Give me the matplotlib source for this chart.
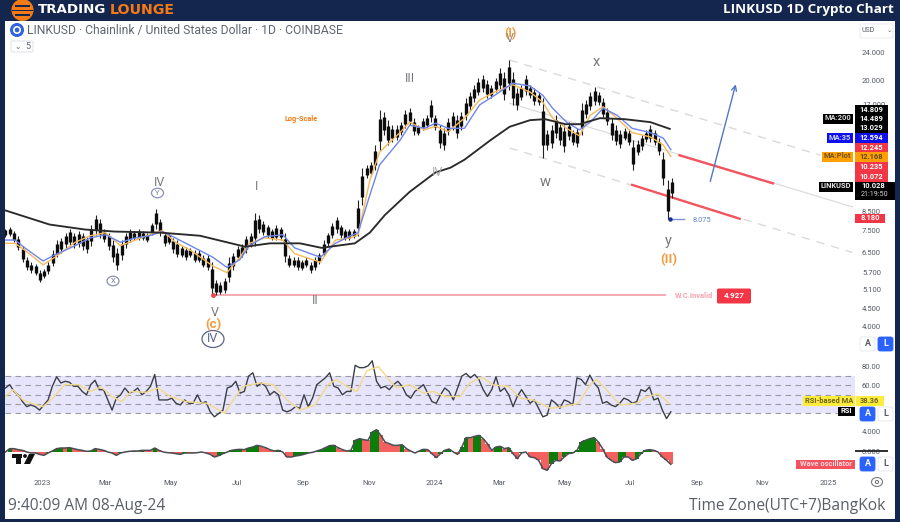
import numpy as np
import matplotlib
matplotlib.use("Agg")
import matplotlib.pyplot as plt
from matplotlib.patches import Rectangle, Circle, Ellipse, FancyBboxPatch, Polygon
from matplotlib.ticker import FixedLocator, FixedFormatter, NullLocator

plt.rcParams['font.family'] = ['Roboto', 'DejaVu Sans']

# ---------- data ----------
bar_high = [7.6,7.7,7.5,7.25,6.8,6.3,6.1,6.05,5.8,5.85,6.1,6.6,7.05,7.15,7.4,7.6,7.4,7.5,7.4,7.2,
            7.8,8.3,8.1,7.6,7.4,7.05,6.7,7.05,7.4,7.6,7.5,7.6,7.5,7.4,7.9,8.65,8.1,7.4,7.4,7.15,
            7.05,6.8,6.75,6.7,6.6,6.6,6.4,6.4,6.1,5.45,5.35,5.5,6.3,6.5,6.8,6.85,7.25,7.4,8.4,8.3,
            8.0,7.8,7.6,7.8,7.7,7.4,6.4,6.3,6.3,6.2,6.3,6.1,6.3,6.5,7.05,7.4,7.9,8.2,7.8,7.6,
            7.6,7.6,9.15,11.25,11.5,11.7,13.1,16.45,16.2,15.4,14.9,14.9,15.2,16.45,16.65,15.6,14.9,15.6,15.9,17.55,
            15.9,14.9,14.6,15.6,16.2,15.9,16.2,17.75,18.5,19.4,20.25,20.7,20.0,19.4,20.25,21.6,21.1,22.8,21.1,19.0,
            19.4,20.7,19.4,19.0,18.5,17.8,14.45,14.9,15.9,15.2,14.9,15.2,14.45,14.6,17.2,17.55,18.5,19.15,18.5,17.8,
            16.65,15.6,14.9,14.45,14.6,14.45,13.5,13.5,14.0,14.45,14.9,14.45,13.7,12.5,10.4,10.55]
bar_low = [7.2,7.25,6.95,6.6,6.1,5.8,5.7,5.6,5.35,5.5,5.65,5.95,6.3,6.5,6.7,6.8,6.7,6.75,6.6,6.5,
           6.8,7.3,7.15,6.95,6.6,6.1,5.8,6.2,6.7,6.95,7.05,7.05,7.05,6.95,7.3,7.6,7.25,6.8,6.85,6.5,
           6.3,6.3,6.2,6.3,6.1,6.1,5.9,5.8,4.93,4.93,4.95,5.0,5.35,5.8,6.2,6.3,6.5,6.75,6.8,7.4,
           7.3,7.15,7.05,7.05,7.05,6.1,5.9,5.9,5.8,5.8,5.9,5.7,5.8,6.05,6.35,6.8,7.15,7.4,7.15,7.05,
           7.05,7.15,7.25,8.85,10.55,10.7,11.1,12.7,14.0,13.1,13.35,13.5,14.0,14.6,14.9,14.0,14.0,14.45,14.6,15.2,
           14.45,12.85,12.7,14.0,14.45,13.7,14.45,15.4,16.45,17.3,18.1,18.5,17.8,17.8,18.5,18.75,17.55,18.75,17.0,16.45,
           17.55,18.1,17.8,17.0,17.0,12.0,12.7,12.85,13.7,13.1,12.5,13.5,13.1,12.95,14.0,15.6,16.45,17.0,17.0,15.6,
           14.9,13.5,13.1,12.85,13.5,13.1,11.1,12.25,12.7,13.35,13.35,13.1,12.25,10.1,8.075,9.3]

ma_days = [-34,-25,-16,1,12,31,45,59,73,87,100,112,124,138,159,172,184,193,207,224,235,259,273,287,294,
           305,314,333,342,356,366,378,393,407,421,438,454,466,475,488,500,510,522,535,549,566,578,585]
ma35 = [7.05,7.05,6.7,6.15,6.4,6.8,7.15,7.3,6.95,7.15,7.25,7.45,7.15,6.8,6.3,5.9,6.2,6.8,7.2,7.3,6.7,6.3,6.9,7.25,7.4,
        9.45,11.5,13.5,14.9,14.6,15.1,14.6,14.6,17.0,18.1,19.6,19.25,18.1,16.65,15.2,14.45,15.2,16.65,15.9,14.6,14.2,13.7,12.7]
ma_plot = [6.9,6.9,6.6,6.0,6.3,6.95,7.25,7.4,6.8,7.05,7.3,7.5,6.95,6.6,5.95,5.7,6.3,6.9,7.15,7.05,6.45,6.1,7.05,7.15,7.3,
           10.4,12.5,14.2,15.2,14.45,14.8,14.3,15.6,17.55,18.5,19.4,18.5,17.3,15.6,14.6,13.9,15.9,16.8,15.6,14.2,13.8,13.1,12.15]
ma200_days = [-34,7,40,68,110,147,189,212,240,260,291,305,319,342,366,380,393,417,435,454,468,487,500,519,542,566,584]
ma200 = [8.55,7.8,7.55,7.45,7.4,7.25,6.75,6.9,6.9,6.7,6.9,7.4,8.3,9.65,10.95,11.3,11.9,13.5,14.75,15.4,15.5,15.0,15.0,15.6,15.5,15.2,14.55]

rsi = [57.3,60.9,53.6,50,42.7,37.3,39.1,37.3,33.6,39.1,44.5,59.1,69.3,62.7,64.5,63.5,59.1,59.1,53.6,50,60.9,65.6,55.5,55.5,44.5,33.6,
       46.4,50,57.3,51.8,53.6,57.3,50,53.6,59.1,71.8,44.5,44.5,44.5,46.4,40.9,39.1,44.5,40.9,40.9,50,40.9,42.7,31.8,26.4,30,33.6,
       57.3,59.1,64.5,51.8,53.6,70,73.6,59.1,62.7,59.1,50,53.6,50,33.6,31.8,33.6,37.3,35.5,50,37.3,46.4,60.9,64.5,68.2,73.6,59.1,
       57.3,50,53.6,53.6,81.6,79.1,79.1,80.9,86.4,64.5,57.3,59.1,55.5,60.9,64.5,59.1,50,46.4,53.6,57.3,60.9,51.8,42.7,40.9,50,
       57.3,53.6,44.5,57.3,70,72.9,68.2,71.8,66.4,55.5,48.2,55.5,69.3,53.6,57.3,50,37.3,48.2,55.5,48.2,40.9,44.5,35.5,26.4,28.2,
       44.5,40.9,35.5,44.5,42.7,39.1,68.2,66.4,60.9,71.1,62.7,57.3,40.9,42.7,39.1,37.3,40.9,46.4,44.5,40.9,42.7,55.5,53.6,58.4,
       44.5,46.4,33.6,24.5,31.8]
rsi_ma_days = [-34,-27,-18,-8,1,10,21,34,45,55,65,74,83,97,108,119,134,153,162,170,178,187,203,215,228,240,254,266,274,286,293,
               302,313,324,330,342,355,364,375,389,398,409,420,434,445,457,473,485,499,510,516,525,538,553,562,573,578,584]
rsi_ma = [48.2,55.5,44.5,40.2,37.3,46.4,60.9,60.9,53.6,58.4,48.2,42.7,53.6,52.7,57.3,48.2,42.7,40.9,35.5,30,44.5,59.1,62.7,60.9,
          44.5,33.6,39.1,60.9,66.4,57.3,53.6,75.5,80.2,64.5,57.3,60.9,51.8,53.6,48.2,48.2,62.7,68.9,60.5,59.1,46.4,44.5,35.5,37.3,
          40.9,60.9,66.4,55.5,39.1,40.9,47.5,51.1,46.4,40.2]

wave_osc = [0,.67,.67,.47,.33,0,-.2,-.2,-.47,-.67,-.2,.2,.67,.8,.8,.87,.67,.47,.33,.13,.2,.67,.53,.33,0,-.2,-.67,-.2,0,.13,.2,.2,.33,.33,.33,.8,
            .33,0,-.13,-.2,-.33,-.47,-.2,-.2,-.2,-.13,0,-.2,-.47,-1,-.73,-.33,0,.33,.47,.53,.47,.8,1,1.33,1.13,.87,.47,.2,.33,0,-1,-1,-.8,-.67,-.47,-.2,
            -.07,.2,.47,.87,1.27,1.33,.87,.47,.2,.33,2.33,2.67,2.47,2.33,4,4.47,3.33,2,1.67,1.33,1.33,1.47,.67,.2,-.2,.2,.53,.47,-.33,-1.13,-.33,
            .33,.6,0,-.47,1,2.87,2.87,3.13,3.33,2.67,1.67,.33,1,1.13,.67,.87,-.33,-1.33,-.2,0,-1,-1.13,-1.67,-3.33,-3.67,-2.33,-1.67,-1.8,-1,-.33,-.2,
            .33,2,2.33,2.67,2.87,2,.67,-1,-1.67,-2.13,-2,-1,-1,-1.67,-1.33,-.33,.33,.47,.33,0,-1,-1.67,-2.47]

price_ticks = [24, 20, 17, 8.5, 7.5, 6.5, 5.7, 5.1, 4.5, 4.0]
rsi_ticks = [80, 60]
osc_ticks = [4, 0]
rsi_levels = [70, 60, 50, 40, 30]
x_tick_days = [0, 59, 120, 181, 243, 304, 365, 425, 486, 547, 609, 670, 731]
x_tick_labels = ['2023', 'Mar', 'May', 'Jul', 'Sep', 'Nov', '2024', 'Mar', 'May', 'Jul', 'Sep', 'Nov', '2025']

invalid_level = 4.927
low_level = 8.075
upper_channel = ([435, 724], [22.8, 12.25])
mid_channel = ([435, 754], [17.2, 8.75])
lower_channel = ([435, 754], [12.85, 6.5])
red_upper = ([593, 680], [12.25, 10.2])
red_lower = ([549, 649], [10.1, 8.1])
wave_arrow = ([621, 646], [10.15, 19.8])

# ---------- layout ----------
W, H = 900, 522
NAVY = '#14264d'
GREY = '#60656e'
fig = plt.figure(figsize=(W / 100, H / 100), dpi=100, facecolor=NAVY)
fig.patches.append(Rectangle((5 / W, 1 - 519 / H), 890 / W, 498 / H, transform=fig.transFigure, fc='white', ec='none', zorder=-5))


def pane(top, bottom):
    a = fig.add_axes([5 / W, 1 - bottom / H, 850 / W, (bottom - top) / H], facecolor='none')
    a.set_xlim(-34.4, 756.3)
    for s in a.spines.values():
        s.set_visible(False)
    a.yaxis.tick_right()
    a.tick_params(axis='both', length=0, labelsize=5.5, labelcolor='#555a63', pad=5)
    a.set_xticks([])
    return a


# ---------- price pane ----------
ax = pane(22, 345)
ax.set_yscale('log')
ax.set_ylim(3.557, 29.2)
ax.yaxis.set_major_locator(FixedLocator(price_ticks))
ax.yaxis.set_major_formatter(FixedFormatter(['%.3f' % t for t in price_ticks]))
ax.yaxis.set_minor_locator(NullLocator())

bar_days = -34 + 4 * np.arange(len(bar_high))
hi = np.array(bar_high)
lo = np.array(bar_low)
ax.vlines(bar_days, lo, hi, color='#222222', lw=0.8, zorder=3)
ax.vlines(bar_days, lo * (hi / lo) ** 0.22, lo * (hi / lo) ** 0.78, color='#0d0d0d', lw=2.4, zorder=3)

ax.plot(*upper_channel, color='#dadada', lw=1, ls=(0, (6, 5)), zorder=1)
ax.plot(*mid_channel, color='#dcdcdc', lw=0.9, zorder=1)
ax.plot(*lower_channel, color='#dadada', lw=1, ls=(0, (6, 5)), zorder=1)
ax.plot(*red_upper, color='#f2555f', lw=1.7, zorder=2)
ax.plot(*red_lower, color='#f2555f', lw=1.7, zorder=2)

ax.plot(ma200_days, ma200, color='#2a2a2a', lw=1.35, zorder=5)
ax.plot(ma_days, ma_plot, color='#f5b95c', lw=1.0, zorder=4)
ax.plot(ma_days, ma35, color='#6f86e8', lw=1.0, zorder=4)

ax.annotate('', xy=(wave_arrow[0][1], wave_arrow[1][1]), xytext=(wave_arrow[0][0], wave_arrow[1][0]),
            arrowprops=dict(arrowstyle='->', color='#4f78c8', lw=1.0, mutation_scale=9), zorder=4)
ax.plot([159, 580], [invalid_level, invalid_level], color='#f7a3aa', lw=1.3, zorder=2)
ax.plot([159], [invalid_level], marker='o', ms=2.5, color='#f2404d', zorder=3)
ax.plot([584, 597], [low_level, low_level], color='#7d93d8', lw=1, zorder=4)
ax.plot([584], [low_level], marker='o', ms=2.2, color='#1b2f8a', zorder=6)

# ---------- RSI pane ----------
ar = pane(360, 420)
ar.set_ylim(23, 87.3)
ar.set_yticks(rsi_ticks)
ar.set_yticklabels(['%.2f' % t for t in rsi_ticks])
ar.axhspan(30, 70, color='#e7e5fb', lw=0, zorder=0)
for lv in rsi_levels:
    ar.axhline(lv, color='#9a9aa5', lw=0.8, ls=(0, (5, 4)), zorder=1)
ar.plot(np.linspace(-34, 585, len(rsi)), rsi, color='#3b3f47', lw=1.0, zorder=3)
ar.plot(rsi_ma_days, rsi_ma, color='#f2d98a', lw=1.0, zorder=4)

# ---------- wave oscillator pane ----------
ao = pane(425, 475)
ao.set_ylim(-4.6, 5.4)
ao.set_yticks(osc_ticks)
ao.set_yticklabels(['%.3f' % t for t in osc_ticks])
osc_days = np.linspace(-34, 585, len(wave_osc))
osc = np.array(wave_osc)
cols = ['#0b7d0b' if d > 0 else '#f4605f' for d in np.diff(osc, prepend=osc[0])]
ao.bar(osc_days, osc, width=osc_days[1] - osc_days[0], color=cols, lw=0, zorder=2)
ao.plot(osc_days, osc, color='#4a4d55', lw=1.1, zorder=3)
ao.set_xticks(x_tick_days)
ao.set_xticklabels(x_tick_labels)
ao.tick_params(axis='x', pad=3.5)

# ---------- overlay in picture pixels ----------
ov = fig.add_axes([0, 0, 1, 1], facecolor='none')
ov.set_xlim(0, W)
ov.set_ylim(H, 0)
ov.axis('off')


def txt(x, y, s, size=8, color=GREY, ha='center', weight='normal', family=None, **kw):
    fam = family if family else ['Roboto', 'DejaVu Sans']
    return ov.text(x, y, s, fontsize=size, color=color, ha=ha, va='center', fontweight=weight, family=fam, **kw)


def tag(x0, x1, yc, s, fc, color='white', h=10, size=5.4):
    ov.add_patch(Rectangle((x0, yc - h / 2), x1 - x0, h, fc=fc, ec='none', zorder=8))
    t = txt((x0 + x1) / 2, yc, s, size=size, color=color, weight='bold')
    t.set_zorder(9)


# header
ov.add_patch(Circle((22.5, 10), 11, fc='#f47a16', ec='none'))
ov.add_patch(Rectangle((15, 5), 15, 2.2, fc=NAVY, ec='none'))
ov.add_patch(Rectangle((12, 9.5), 21, 1.8, fc=NAVY, ec='none'))
ov.add_patch(Rectangle((15, 13.5), 15, 2.2, fc=NAVY, ec='none'))
txt(38, 9.5, 'TRADING', size=9.6, color='white', ha='left', weight='bold', family='DejaVu Sans')
txt(110, 9.5, 'LOUNGE', size=10.2, color='#f47a16', ha='left', weight='bold', family='DejaVu Sans')
txt(894, 10, 'LINKUSD 1D Crypto Chart', size=9.7, color='white', ha='right', weight='bold', family='Open Sans')

# chart title
ov.add_patch(Circle((17, 30), 7, fc='#2e62e0', ec='none'))
ov.add_patch(Circle((17, 30), 3.2, fc='none', ec='white', lw=1.2))
txt(27, 30.5, 'LINKUSD \u00b7 Chainlink / United States Dollar \u00b7 1D \u00b7 COINBASE', size=8.75, color='#5f6670', ha='left')
ov.add_patch(FancyBboxPatch((11, 41), 22, 11, boxstyle='round,pad=0,rounding_size=1.5', fc='white', ec='#e3e5ea', lw=0.8))
txt(18, 46.8, '\u2304', size=5.5, family='DejaVu Sans')
txt(27.5, 46.5, '5', size=6.5)
ov.add_patch(FancyBboxPatch((860, 24), 33, 14, boxstyle='round,pad=0,rounding_size=1.5', fc='white', ec='#e6e8ee', lw=0.6))
txt(862, 30.5, 'USD', size=5, ha='left', color='#555a63')
txt(889, 31, '\u2304', size=4.5, family='DejaVu Sans')

# wave labels
txt(510, 34, '(I)', size=9, color='#f39a3d', weight='bold')
txt(510, 39, 'V', size=9, color='#8a8a8a')
txt(410, 79, 'III', size=9, color='#77797d')
txt(301, 119, 'Log-Scale', size=5.2, color='#f47a16', weight='bold')
txt(160, 183, 'IV', size=9, color='#77797d')
ov.add_patch(Ellipse((157.5, 193), 12, 9.5, fc='none', ec='#8c8fb5', lw=0.9))
txt(157.5, 193, 'Y', size=5.5, color='#7a7da0')
txt(257, 186, 'I', size=9, color='#77797d')
txt(438, 172, 'IV', size=9, color='#aaaaaa')
txt(596, 62, 'x', size=10.5, color='#77797d')
txt(545, 182, 'w', size=10.5, color='#77797d')
txt(668, 241, 'y', size=10.5, color='#77797d')
txt(669, 260, '(II)', size=9.5, color='#f39a3d', weight='bold')
ov.add_patch(Ellipse((113, 281), 12, 9.5, fc='none', ec='#8c8fb5', lw=0.9))
txt(113, 281, 'X', size=5.5, color='#7a7da0')
txt(315, 300, 'II', size=9, color='#77797d')
txt(215, 313, 'V', size=9, color='#77797d')
txt(213, 324.5, '(c)', size=9.5, color='#f39a3d', weight='bold')
ov.add_patch(Ellipse((213, 339), 22, 17, fc='none', ec='#5a6388', lw=0.9))
txt(213, 339, 'IV', size=9, color='#5a6388')
txt(694, 295.5, 'W.C.Invalid', size=5.4, color='#f7a3aa', weight='bold')
ov.add_patch(FancyBboxPatch((717, 288.5), 34, 15, boxstyle='round,pad=0,rounding_size=1.5', fc='#f23645', ec='none'))
txt(734, 296, '4.927', size=5.8, color='white', weight='bold')
txt(702, 220, '8.075', size=5.4, color='#5f7fd0')

# right-hand price tags
tag(855, 888, 109.5, '14.809', '#000000')
tag(855, 888, 119, '14.489', '#000000')
tag(855, 888, 128.5, '13.029', '#000000')
tag(855, 888, 138, '12.594', '#1010ee')
tag(855, 888, 147.5, '12.245', '#f23645')
tag(855, 888, 157, '12.168', '#ff9f00', color='#5a4a20')
tag(855, 888, 167, '10.235', '#f23645')
tag(855, 888, 177, '10.072', '#f23645')
tag(855, 895, 191, '', '#000000', h=18)
txt(873, 186.5, '10.028', size=5.4, color='white', weight='bold').set_zorder(9)
txt(875, 195, '21:19:50', size=5.2, color='#cfcfcf').set_zorder(9)
tag(855, 885, 218.5, '8.180', '#f23645', h=9)
tag(823, 853, 118.5, 'MA:200', '#000000', color='#d8d8d8')
tag(827, 853, 137.5, 'MA:35', '#1010ee', color='#cfd6ff')
tag(822, 853, 156.5, 'MA:Plot', '#ff9f00', color='#6a5520')
tag(819, 853, 186.5, 'LINKUSD', '#000000', color='#e8e8e8')

# RSI and oscillator tags
tag(803, 855, 401, 'RSI-based MA', '#ffeb3b', color='#6a6420', h=9.5)
tag(856, 884, 401, '38.36', '#ffeb3b', color='#6a6420', h=9.5)
tag(838, 855, 411, 'RSI', '#000000', h=9)
tag(796, 855, 464.5, 'Wave oscillator', '#f4525f', color='#ffd9dc', h=9.5)
ov.add_patch(Rectangle((855, 450), 33, 1.6, fc='#333333', ec='none', zorder=7))


def btn(x, y, s, active):
    ov.add_patch(FancyBboxPatch((x, y), 15, 14, boxstyle='round,pad=0,rounding_size=2.2',
                                fc='#2962ff' if active else 'white', ec='#2962ff' if active else '#e3e5ea', lw=0.6))
    txt(x + 7.5, y + 7, s, size=6.5, color='white' if active else '#555a63', weight='bold')


btn(860, 337, 'A', False)
btn(878, 337, 'L', True)
btn(860, 407, 'A', True)
btn(878, 407, 'L', False)
btn(860, 457, 'A', True)
btn(878, 457, 'L', False)
ov.add_patch(Ellipse((877, 482), 11, 9, fc='none', ec='#77797d', lw=0.8))
ov.add_patch(Circle((877, 482), 1.6, fc='none', ec='#77797d', lw=0.8))

# TradingView mark
ov.add_patch(Rectangle((12, 454), 10, 3.5, fc='#111111', ec='none', zorder=8))
ov.add_patch(Rectangle((16, 454), 4.5, 10, fc='#111111', ec='none', zorder=8))
ov.add_patch(Circle((25, 456), 1.9, fc='#111111', ec='none', zorder=8))
ov.add_patch(Polygon([[29, 454], [35, 454], [30, 464], [24, 464]], fc='#111111', ec='none', zorder=8))

# footer
txt(8, 506, '9:40:09 AM 08-Aug-24', size=11.2, color='#5a5f66', ha='left', family='Open Sans')
txt(885, 506, 'Time Zone(UTC+7)BangKok', size=11.2, color='#5a5f66', ha='right', family='Open Sans')

fig.savefig('out.png', dpi=100, facecolor=NAVY)
